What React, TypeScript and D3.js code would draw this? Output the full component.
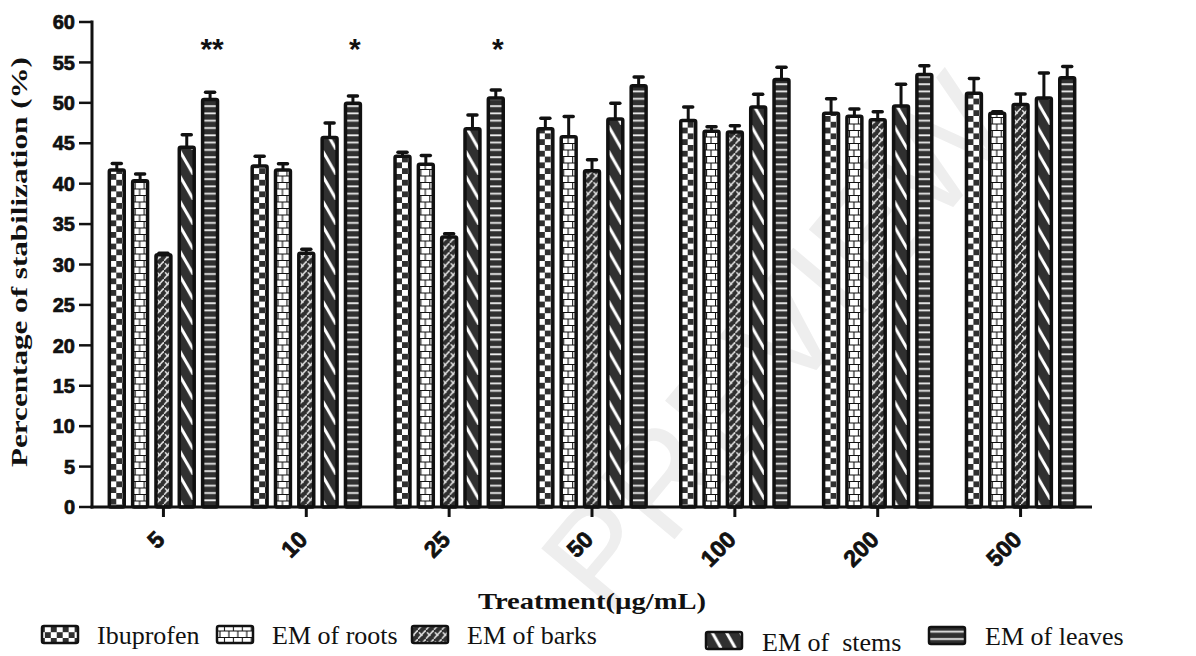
import React from "react";
import * as d3 from "d3";

const groups = ["5", "10", "25", "50", "100", "200", "500"];
const seriesNames = ["Ibuprofen", "EM of roots", "EM of barks", "EM of  stems", "EM of leaves"];

const ibuprofen = [41.7, 42.2, 43.4, 46.8, 47.8, 48.7, 51.2];
const ibuprofenErr = [0.8, 1.2, 0.5, 1.3, 1.7, 1.8, 1.8];
const roots = [40.35, 41.7, 42.4, 45.8, 46.5, 48.35, 48.7];
const rootsErr = [0.85, 0.75, 1.1, 2.5, 0.55, 0.9, 0.2];
const barks = [31.2, 31.4, 33.4, 41.6, 46.4, 47.9, 49.8];
const barksErr = [0.2, 0.5, 0.4, 1.35, 0.75, 1.0, 1.3];
const stems = [44.5, 45.7, 46.8, 48.0, 49.5, 49.6, 50.6];
const stemsErr = [1.55, 1.8, 1.7, 1.95, 1.55, 2.7, 3.1];
const leaves = [50.4, 49.95, 50.6, 52.1, 52.9, 53.5, 53.1];
const leavesErr = [0.9, 0.9, 1.0, 1.1, 1.5, 1.1, 1.4];

// significance marks drawn above the "EM of leaves" bar
const significance = ["**", "*", "*", "", "", "", ""];

const yTicks = [0, 5, 10, 15, 20, 25, 30, 35, 40, 45, 50, 55, 60];

const values = [ibuprofen, roots, barks, stems, leaves];
const errors = [ibuprofenErr, rootsErr, barksErr, stemsErr, leavesErr];
const patternIds = ["pat-checker", "pat-brick", "pat-zigzag", "pat-diag", "pat-hlines"];

const W = 1196;
const H = 656;
const DARK = "#303030";
const SANS = "Liberation Sans, Arial, Helvetica, sans-serif";
const SERIF = "Liberation Serif, Times New Roman, Times, serif";

export default function App() {
  const x = d3.scaleBand<string>().domain(groups).range([92, 1092]).padding(0);
  const inner = d3
    .scaleBand<number>()
    .domain(d3.range(seriesNames.length))
    .range([-62.5, 62.5])
    .padding(0.36);
  const y = d3.scaleLinear().domain([0, 60]).range([507, 22]);

  const step = x.step();
  const bw = inner.bandwidth();
  // left edge of a series' bar in the first group, so every group shares the pattern phase
  const phase = (i: number) => (x(groups[0]) ?? 0) + step / 2 + (inner(i) ?? 0);

  const zw = step / 18;

  const legendItems = [
    { sx: 42, sy: 626, tx: 97, ty: 644 },
    { sx: 217, sy: 626, tx: 272, ty: 644 },
    { sx: 412, sy: 626, tx: 467, ty: 644 },
    { sx: 706, sy: 632, tx: 762, ty: 651 },
    { sx: 929, sy: 627, tx: 985, ty: 645 },
  ];

  return (
    <svg
      width={W}
      height={H}
      style={{ position: "absolute", left: 0, top: 0, background: "#fff" }}
    >
      <defs>
        <pattern id="pat-checker" patternUnits="userSpaceOnUse" x={phase(0) + 1} y={0} width={step / 12} height={11.6}>
          <rect width={step / 12} height={11.6} fill="#fff" />
          <rect width={step / 24} height={5.8} fill={DARK} />
          <rect x={step / 24} y={5.8} width={step / 24} height={5.8} fill={DARK} />
        </pattern>
        <pattern id="pat-brick" patternUnits="userSpaceOnUse" x={phase(1) + 2} y={0} width={step / 16} height={13}>
          <rect width={step / 16} height={13} fill="#fff" />
          <path
            d={`M0,0.5H${step / 16}M0,7H${step / 16}M0.5,0.5V7M${step / 32 + 0.5},7V13`}
            stroke="#111"
            strokeWidth={1.1}
            fill="none"
          />
        </pattern>
        <pattern id="pat-zigzag" patternUnits="userSpaceOnUse" x={phase(2)} y={0} width={zw} height={9}>
          <rect width={zw} height={9} fill={DARK} />
          <path d={`M-1,10L${zw + 1},-1`} stroke="#e2e2e2" strokeWidth={1.6} fill="none" />
          <path d={`M${zw * 0.15},2.2L${zw * 0.55},6`} stroke="#e2e2e2" strokeWidth={1.4} fill="none" />
        </pattern>
        <pattern id="pat-diag" patternUnits="userSpaceOnUse" x={phase(3)} y={0} width={step / 10} height={25}>
          <rect width={step / 10} height={25} fill={DARK} />
          <path
            d={`M${-step / 10},-25L${(2 * step) / 10},50`}
            stroke="#fff"
            strokeWidth={3}
            fill="none"
          />
        </pattern>
        <pattern id="pat-hlines" patternUnits="userSpaceOnUse" x={0} y={0} width={10} height={7.3}>
          <rect width={10} height={7.3} fill={DARK} />
          <rect y={3} width={10} height={1.8} fill="#eee" />
        </pattern>
      </defs>

      {/* watermark */}
      <text
        transform="translate(785,350) rotate(-50)"
        textAnchor="middle"
        dominantBaseline="middle"
        fontFamily={SANS}
        fontSize={140}
        textLength={640}
        lengthAdjust="spacingAndGlyphs"
        fill="#eeeeee"
      >
        PREVIEW
      </text>

      {/* bars */}
      {groups.map((g, gi) => {
        const cx0 = (x(g) ?? 0) + step / 2;
        return (
          <g key={g}>
            {values.map((vals, si) => {
              const bx = cx0 + (inner(si) ?? 0);
              const v = vals[gi];
              const e = errors[si][gi];
              const cx = bx + bw / 2;
              return (
                <g key={si}>
                  <line x1={cx} x2={cx} y1={y(v)} y2={y(v + e)} stroke="#111" strokeWidth={3} />
                  <line
                    x1={cx - 4.5}
                    x2={cx + 4.5}
                    y1={y(v + e)}
                    y2={y(v + e)}
                    stroke="#111"
                    strokeWidth={3.5}
                    strokeLinecap="round"
                  />
                  <rect
                    x={bx}
                    y={y(v)}
                    width={bw}
                    height={y(0) - y(v)}
                    rx={1.5}
                    fill={`url(#${patternIds[si]})`}
                    stroke="#111"
                    strokeWidth={3.5}
                  />
                </g>
              );
            })}
            {significance[gi] && (
              <text
                x={cx0 + (inner(4) ?? 0) + bw / 2 + 2}
                y={59}
                textAnchor="middle"
                fontFamily={SANS}
                fontWeight="bold"
                fontSize={30}
                fill="#111"
              >
                {significance[gi]}
              </text>
            )}
          </g>
        );
      })}

      {/* y axis */}
      <line x1={92} x2={92} y1={y(60) - 1.5} y2={y(0) + 1.5} stroke="#111" strokeWidth={3} />
      {yTicks.map((t) => (
        <g key={t}>
          <line x1={79} x2={92} y1={y(t)} y2={y(t)} stroke="#111" strokeWidth={2.5} />
          <text
            x={75}
            y={y(t)}
            dy="0.36em"
            textAnchor="end"
            fontFamily={SANS}
            fontWeight="bold"
            fontSize={20}
            fill="#111"
            stroke="#111"
            strokeWidth={0.7}
          >
            {t}
          </text>
        </g>
      ))}

      {/* x axis */}
      <line x1={90.5} x2={1092} y1={y(0)} y2={y(0)} stroke="#111" strokeWidth={3} />
      {groups.map((g) => {
        const cx = (x(g) ?? 0) + step / 2;
        return (
          <g key={g}>
            <line x1={cx} x2={cx} y1={y(0)} y2={y(0) + 10} stroke="#111" strokeWidth={3} />
            <text
              transform={`translate(${cx + 2.5},${541}) rotate(-45)`}
              textAnchor="end"
              fontFamily={SANS}
              fontWeight="bold"
              fontSize={23}
              fill="#111"
              stroke="#111"
              strokeWidth={0.8}
            >
              {g}
            </text>
          </g>
        );
      })}

      {/* axis titles */}
      <text
        x={592}
        y={609}
        textAnchor="middle"
        fontFamily={SERIF}
        fontWeight="bold"
        fontSize={24}
        textLength={228}
        lengthAdjust="spacingAndGlyphs"
        fill="#111"
      >
        Treatment(µg/mL)
      </text>
      <text
        transform="translate(27,262) rotate(-90)"
        textAnchor="middle"
        fontFamily={SERIF}
        fontWeight="bold"
        fontSize={23}
        textLength={410}
        lengthAdjust="spacingAndGlyphs"
        fill="#111"
      >
        Percentage of stabilization (%)
      </text>

      {/* legend */}
      {seriesNames.map((name, i) => {
        const it = legendItems[i];
        return (
          <g key={name}>
            <rect
              x={it.sx}
              y={it.sy}
              width={36}
              height={17}
              rx={2}
              fill={`url(#${patternIds[i]})`}
              stroke="#111"
              strokeWidth={2.5}
            />
            <text x={it.tx} y={it.ty} fontFamily={SERIF} fontSize={26} fill="#111" style={{ whiteSpace: "pre" }}>
              {name}
            </text>
          </g>
        );
      })}
    </svg>
  );
}
